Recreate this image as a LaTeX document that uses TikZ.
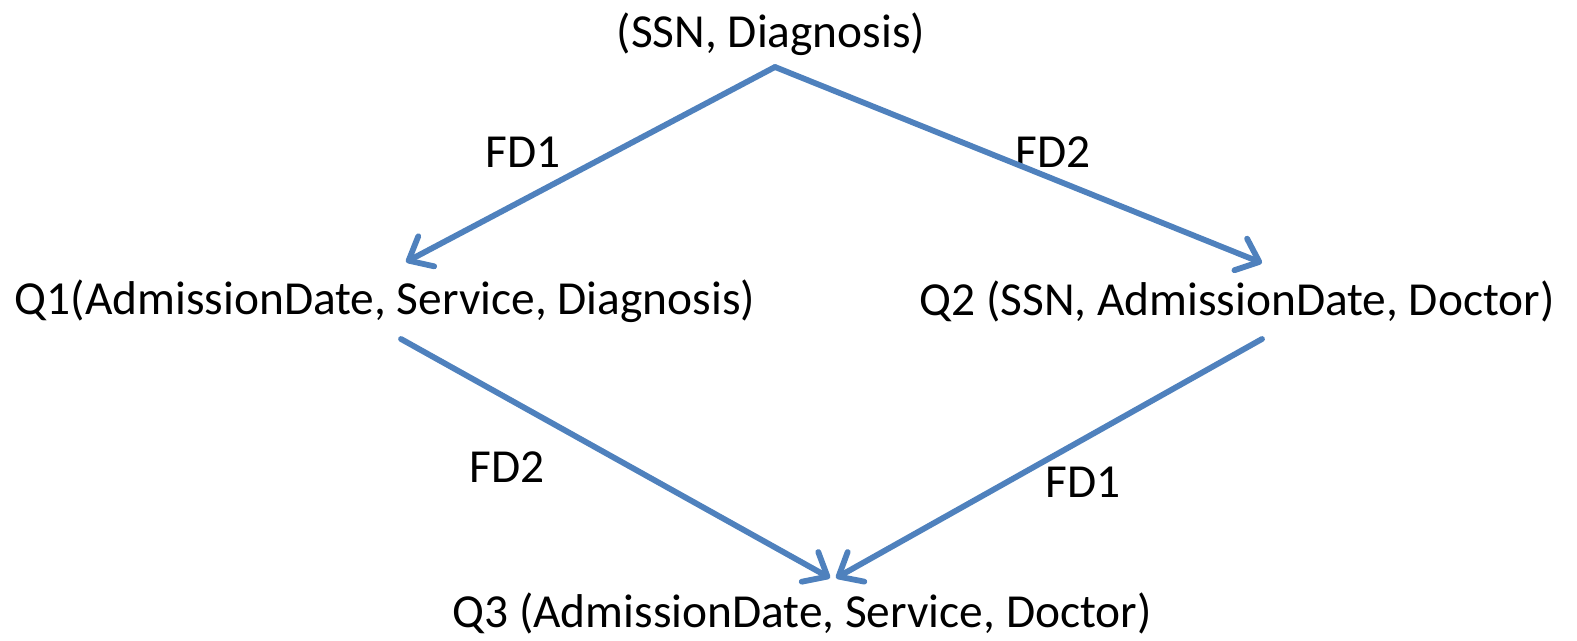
\documentclass[tikz,border=0pt]{standalone}
\usepackage{fontspec}
\setmainfont{Carlito}
\usetikzlibrary{arrows.meta}
\definecolor{arrowblue}{HTML}{4F81BD}
\tikzset{
  lbl/.style={inner sep=0pt, font=\fontsize{23.7}{28}\selectfont},
  conn/.style={draw=arrowblue, line width=2.9pt, line cap=round, line join=round},
  arr/.style={conn, -{Straight Barb[length=10pt,width=17pt,line width=2.9pt,round]}}
}
\begin{document}
\begin{tikzpicture}[x=0.5pt,y=-0.5pt]
\useasboundingbox (0,0) rectangle (1577,641);
\node[lbl] (top) at (771,34) {(SSN, Diagnosis)};
\node[lbl] (q1) at (385,301) {Q1(AdmissionDate, Service, Diagnosis)};
\node[lbl] (q2) at (1237,301) {Q2 (SSN, AdmissionDate, Doctor)};
\node[lbl] (q3) at (802,613) {Q3 (AdmissionDate, Service, Doctor)};
\node[lbl] (fda) at (523,152) {FD1};
\node[lbl] (fdb) at (1053,152) {FD2};
\node[lbl] (fdc) at (507,467) {FD2};
\node[lbl] (fdd) at (1083,482) {FD1};
\coordinate (apex) at (775,67);
\coordinate (q1in) at (406,262);
\coordinate (q2in) at (1262,263);
\coordinate (q1out) at (401,339);
\coordinate (q2out) at (1262,339);
\coordinate (q3inl) at (830,578);
\coordinate (q3inr) at (836,578);
\draw[arr] (apex) -- (q1in);
\draw[arr] (apex) -- (q2in);
\draw[arr] (q1out) -- (q3inl);
\draw[arr] (q2out) -- (q3inr);
\end{tikzpicture}
\end{document}
